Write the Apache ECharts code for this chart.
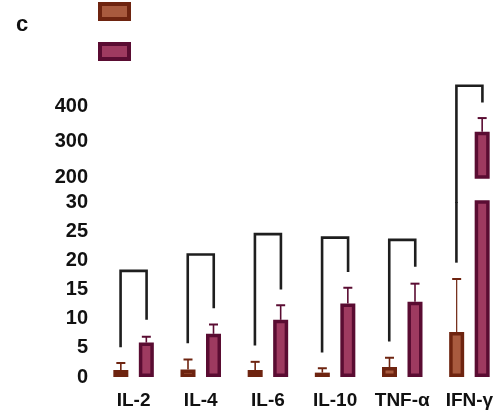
<!DOCTYPE html>
<html>
<head>
<meta charset="utf-8">
<script src="https://cdn.jsdelivr.net/npm/echarts@6/dist/echarts.min.js"></script>
<style>
  html, body { margin: 0; padding: 0; background: #fff; }
  #chart { width: 503px; height: 412px; }
</style>
</head>
<body>
<div id="chart"></div>
<script>
// categories and values
const categories = ["IL-2", "IL-4", "IL-6", "IL-10", "TNF-α", "IFN-γ"];
const brownMean = [1.2, 1.3, 1.2, 0.75, 1.7, 7.7];
const brownErr = [2.4, 3.0, 2.6, 1.5, 3.3, 16.8];
const purpleMean = [5.9, 7.4, 9.8, 12.6, 12.9, 327.6];
const purpleErr = [6.9, 9.0, 12.3, 15.3, 16.0, 366];
// significance brackets (first five sit in the 0-30 range)
const bracketLeft = [5.1, 5.8, 5.4, 4.2, 6.1];
const bracketRight = [9.8, 11.8, 15.0, 18.0, 18.9];
const bracketTop = [18.2, 21.0, 24.5, 23.9, 23.5];
// IFN-γ bracket: left leg starts in the lower range, top and right leg in the upper range
const ifnBracketLeft = 19.6;
const ifnBracketRight = 410;
const ifnBracketTop = 457;
const lowerTicks = [0, 30, 5];
const upperTicks = [200, 400, 100];

const BROWN = "#a85a3e", BROWN_DARK = "#6e2410";
const PURPLE = "#9e3a60", PURPLE_DARK = "#5a0c32";
const LOWER_TOP = 202;
const OFFSET = 12.75; // half distance between the two bar centres
const font = "Liberation Sans, Arial, sans-serif";

const chart = echarts.init(document.getElementById("chart"));

function errData(lo, hi) {
  const out = [];
  for (let i = 0; i < categories.length; i++) {
    if (brownErr[i] <= hi && brownMean[i] >= lo) out.push([i, brownMean[i], brownErr[i], -1]);
    if (purpleErr[i] <= hi && purpleMean[i] >= lo) out.push([i, purpleMean[i], purpleErr[i], 1]);
  }
  return out;
}

function renderErr(params, api) {
  const i = api.value(0);
  const side = api.value(3);
  const p0 = api.coord([i, api.value(1)]);
  const p1 = api.coord([i, api.value(2)]);
  const x = p0[0] + side * OFFSET;
  const dark = side < 0 ? BROWN_DARK : PURPLE_DARK;
  return {
    type: "group",
    children: [
      { type: "line", shape: { x1: x, y1: p0[1], x2: x, y2: p1[1] },
        style: { stroke: dark, lineWidth: i === 5 && side < 0 ? 1.2 : 1.6 } },
      { type: "line", shape: { x1: x - 4.5, y1: p1[1], x2: x + 4.5, y2: p1[1] },
        style: { stroke: dark, lineWidth: 2 } }
    ]
  };
}

const bracketStyle = { stroke: "#1e1e1e", lineWidth: 2.6, fill: null, lineJoin: "miter" };

function renderBracket(params, api) {
  const i = api.value(0);
  const c = api.coord([i, 0]);
  const xl = c[0] - 13, xr = c[0] + 13;
  const yl = api.coord([i, api.value(1)])[1];
  const yr = api.coord([i, api.value(2)])[1];
  const yt = api.coord([i, api.value(3)])[1];
  return { type: "polyline", shape: { points: [[xl, yl], [xl, yt], [xr, yt], [xr, yr]] }, style: bracketStyle };
}

const bracketData = bracketLeft.map((v, i) => [i, v, bracketRight[i], bracketTop[i]]);

const yAxisBase = {
  type: "value",
  axisLine: { show: false },
  axisTick: { show: false },
  splitLine: { show: false },
  axisLabel: { fontFamily: font, fontWeight: "bold", fontSize: 20, color: "#111", margin: 12 }
};

const barBase = {
  type: "bar",
  barWidth: 15,
  barGap: "70%",
  animation: false
};
const brownStyle = { color: BROWN, borderColor: BROWN_DARK, borderWidth: 3.5 };
const purpleStyle = { color: PURPLE, borderColor: PURPLE_DARK, borderWidth: 3.5 };

chart.setOption({
  animation: false,
  title: {
    text: "c", left: 16, top: 14, padding: 0,
    textStyle: { fontFamily: font, fontWeight: "bold", fontSize: 22, color: "#111" }
  },
  legend: {
    left: 98, top: 2, padding: 0, orient: "vertical",
    itemWidth: 29, itemHeight: 15, itemGap: 21,
    icon: "rect",
    formatter: () => "",
    data: [
      { name: "Control", itemStyle: { color: BROWN, borderColor: BROWN_DARK, borderWidth: 4 } },
      { name: "Treated", itemStyle: { color: PURPLE, borderColor: PURPLE_DARK, borderWidth: 4 } }
    ]
  },
  grid: [
    { left: 100, width: 414, top: LOWER_TOP, bottom: 35 },
    { left: 100, width: 414, top: 106, bottom: 235 }
  ],
  xAxis: [
    {
      type: "category", gridIndex: 0, data: categories,
      axisLine: { show: false }, axisTick: { show: false },
      axisLabel: { fontFamily: font, fontWeight: "bold", fontSize: 19, color: "#111", margin: 14, interval: 0 }
    },
    { type: "category", gridIndex: 1, data: categories, show: false }
  ],
  yAxis: [
    Object.assign({}, yAxisBase, { gridIndex: 0, min: lowerTicks[0], max: lowerTicks[1], interval: lowerTicks[2] }),
    Object.assign({}, yAxisBase, { gridIndex: 1, min: upperTicks[0], max: upperTicks[1], interval: upperTicks[2] })
  ],
  series: [
    Object.assign({}, barBase, {
      name: "Control", xAxisIndex: 0, yAxisIndex: 0, data: brownMean, itemStyle: brownStyle
    }),
    Object.assign({}, barBase, {
      name: "Treated", xAxisIndex: 0, yAxisIndex: 0, data: purpleMean, itemStyle: purpleStyle
    }),
    Object.assign({}, barBase, {
      name: "Control", xAxisIndex: 1, yAxisIndex: 1,
      data: brownMean.map(v => (v >= upperTicks[0] ? v : "-")), itemStyle: brownStyle
    }),
    Object.assign({}, barBase, {
      name: "Treated", xAxisIndex: 1, yAxisIndex: 1,
      data: purpleMean.map(v => (v >= upperTicks[0] ? v : "-")), itemStyle: purpleStyle
    }),
    {
      type: "custom", xAxisIndex: 0, yAxisIndex: 0, silent: true,
      data: errData(lowerTicks[0], lowerTicks[1]), renderItem: renderErr, z: 3
    },
    {
      type: "custom", xAxisIndex: 1, yAxisIndex: 1, silent: true,
      data: errData(upperTicks[0], Infinity), renderItem: renderErr, z: 3
    },
    {
      type: "custom", xAxisIndex: 0, yAxisIndex: 0, silent: true,
      data: bracketData, renderItem: renderBracket, z: 4
    },
    {
      // IFN-γ bracket, lower piece: left leg up to the top of the lower range
      type: "custom", xAxisIndex: 0, yAxisIndex: 0, silent: true,
      data: [[5, ifnBracketLeft]], z: 4,
      renderItem: function (params, api) {
        const p = api.coord([api.value(0), api.value(1)]);
        const x = p[0] - 13;
        return { type: "polyline", shape: { points: [[x, p[1]], [x, params.coordSys.y]] }, style: bracketStyle };
      }
    },
    {
      // IFN-γ bracket, upper piece: continues the left leg through the gap
      type: "custom", xAxisIndex: 1, yAxisIndex: 1, silent: true,
      data: [[5, ifnBracketRight, ifnBracketTop]], z: 4,
      renderItem: function (params, api) {
        const i = api.value(0);
        const c = api.coord([i, upperTicks[0]]);
        const xl = c[0] - 13, xr = c[0] + 13;
        const yt = api.coord([i, api.value(2)])[1];
        const yr = api.coord([i, api.value(1)])[1];
        return { type: "polyline", shape: { points: [[xl, LOWER_TOP + 1], [xl, yt], [xr, yt], [xr, yr]] }, style: bracketStyle };
      }
    }
  ]
});
</script>
</body>
</html>
